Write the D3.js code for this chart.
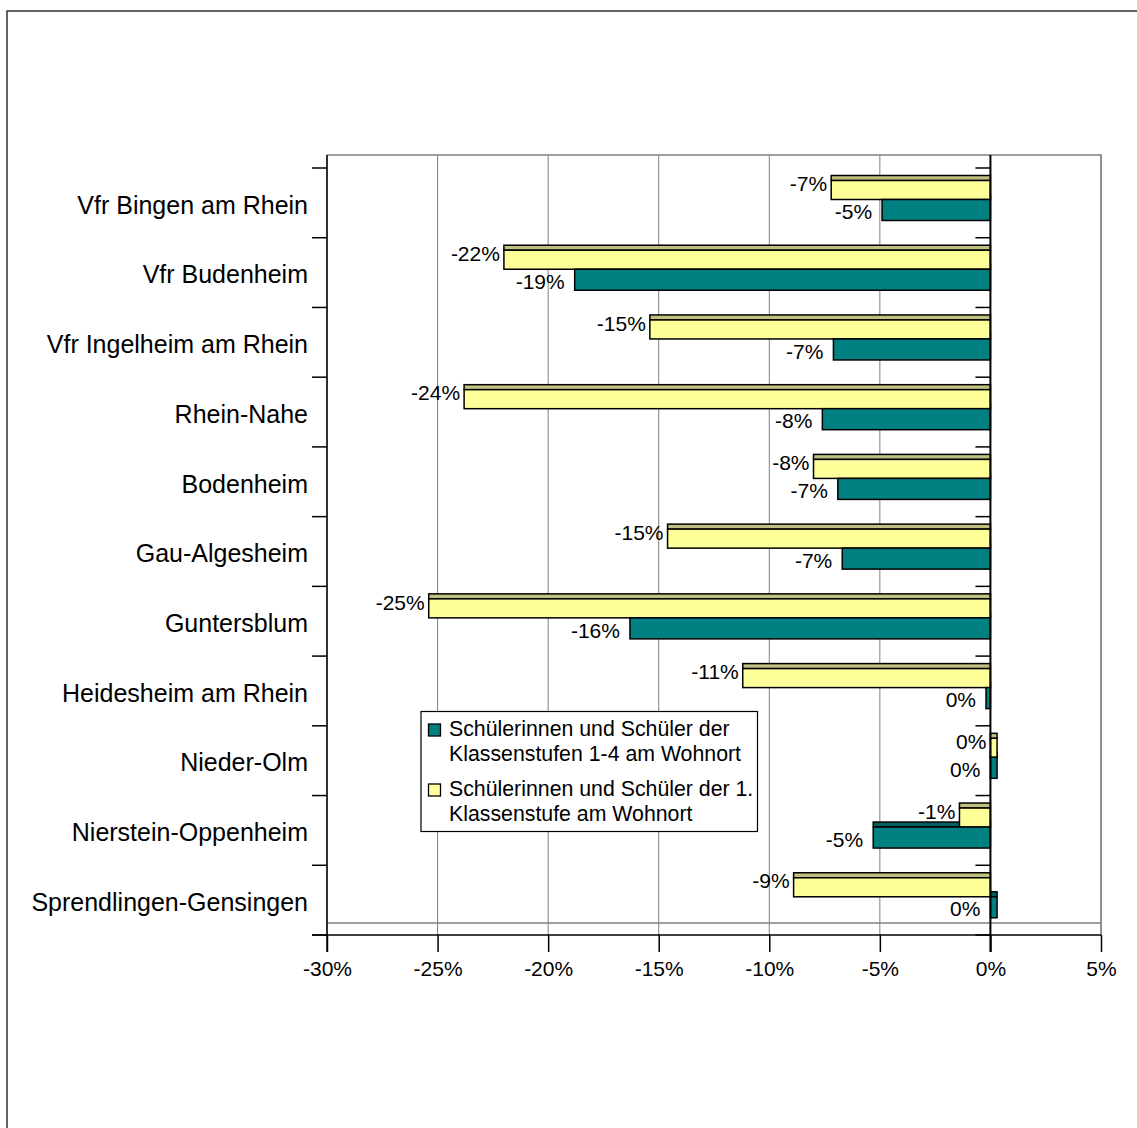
<!DOCTYPE html>
<html><head><meta charset="utf-8">
<script src="https://cdn.jsdelivr.net/npm/d3@7"></script>
<style>body{margin:0;background:#fff}svg{display:block;font-family:"Liberation Sans",Arial,sans-serif}</style>
</head><body>
<svg id="c" width="1137" height="1128"></svg>
<script>
const categories = ["Vfr Bingen am Rhein","Vfr Budenheim","Vfr Ingelheim am Rhein","Rhein-Nahe","Bodenheim","Gau-Algesheim","Guntersblum","Heidesheim am Rhein","Nieder-Olm","Nierstein-Oppenheim","Sprendlingen-Gensingen"];
const klassen14 = [-4.9, -18.8, -7.1, -7.6, -6.9, -6.7, -16.3, -0.2, 0.3, -5.3, 0.3];
const klasse1 = [-7.2, -22.0, -15.4, -23.8, -8.0, -14.6, -25.4, -11.2, 0.3, -1.4, -8.9];
const xTicks = [-30, -25, -20, -15, -10, -5, 0, 5];
const legendLabels = [["Schülerinnen und Schüler der","Klassenstufen 1-4 am Wohnort"],["Schülerinnen und Schüler der 1.","Klassenstufe am Wohnort"]];

const svg = d3.select("#c");
const x = d3.scaleLinear().domain([-30, 5]).range([327, 1101]);
const y = d3.scaleBand().domain(categories).range([168, 935]).padding(0);
const top0 = 155, wallBottom = 923, front = 935;
const teal = "#008080", tealTop = "#005f5f", yel = "#FFFF99", yelTop = "#C0C080";

// outer frame
svg.append("path").attr("d","M7,1128 V11 H1137").attr("fill","none").attr("stroke","#333").attr("stroke-width",1.5);

// gridlines on back wall
svg.selectAll(".grid").data(xTicks).join("line")
  .attr("x1",d=>x(d)).attr("x2",d=>x(d)).attr("y1",top0).attr("y2",wallBottom)
  .attr("stroke","#808080").attr("stroke-width",1);
svg.selectAll(".fgrid").data(xTicks).join("line")
  .attr("x1",d=>x(d)).attr("x2",d=>x(d)).attr("y1",wallBottom).attr("y2",front)
  .attr("stroke","#808080").attr("stroke-width",1);
svg.append("path").attr("d",`M${x(-30)},${top0} H${x(5)} V${front}`).attr("fill","none").attr("stroke","#808080").attr("stroke-width",1.5);
svg.append("line").attr("x1",x(-30)).attr("x2",x(5)).attr("y1",wallBottom).attr("y2",wallBottom).attr("stroke","#808080").attr("stroke-width",1.5);

// bars
const g = svg.append("g");
categories.forEach((c,i)=>{
  const b = y(c);
  const tv = klassen14[i], yv = klasse1[i];
  const tx0 = x(Math.min(0,tv)), tx1 = x(Math.max(0,tv));
  const yx0 = x(Math.min(0,yv)), yx1 = x(Math.max(0,yv));
  g.append("rect").attr("x",tx0).attr("y",b+26.5).attr("width",tx1-tx0).attr("height",5)
    .attr("fill",tealTop).attr("stroke","#000").attr("stroke-width",1.5);
  g.append("rect").attr("x",yx0).attr("y",b+7.5).attr("width",yx1-yx0).attr("height",5)
    .attr("fill",yelTop).attr("stroke","#000").attr("stroke-width",1.5);
  g.append("rect").attr("x",yx0).attr("y",b+12.5).attr("width",yx1-yx0).attr("height",19)
    .attr("fill",yel).attr("stroke","#000").attr("stroke-width",1.5);
  g.append("rect").attr("x",tx0).attr("y",b+31.5).attr("width",tx1-tx0).attr("height",21)
    .attr("fill",teal).attr("stroke","#000").attr("stroke-width",1.5);
});

// axes lines
svg.append("line").attr("x1",x(-30)).attr("x2",x(-30)).attr("y1",top0).attr("y2",952).attr("stroke","#000").attr("stroke-width",1.5);
svg.append("line").attr("x1",x(0)).attr("x2",x(0)).attr("y1",top0).attr("y2",952).attr("stroke","#000").attr("stroke-width",2);
svg.append("line").attr("x1",312).attr("x2",x(5)).attr("y1",front).attr("y2",front).attr("stroke","#000").attr("stroke-width",1.5);

// category ticks
const edges = categories.map(c=>y(c)).concat([y.range()[1]]);
svg.selectAll(".ct").data(edges).join("line")
  .attr("x1",312).attr("x2",x(-30)).attr("y1",d=>d).attr("y2",d=>d).attr("stroke","#000").attr("stroke-width",1.5);
svg.selectAll(".ct0").data(edges).join("line")
  .attr("x1",x(0)-15).attr("x2",x(0)).attr("y1",d=>d).attr("y2",d=>d).attr("stroke","#000").attr("stroke-width",1.5);

// x axis
const xAxis = d3.axisBottom(x).tickValues(xTicks).tickSize(17).tickPadding(9).tickFormat(d=>d+"%");
const ax = svg.append("g").attr("transform",`translate(0,${front})`).call(xAxis);
ax.select(".domain").remove();
ax.selectAll(".tick line").attr("stroke","#000").attr("stroke-width",1.5);
ax.selectAll(".tick text").attr("font-size",21).attr("font-family","Liberation Sans, Arial, sans-serif").attr("fill","#000");

// category labels
svg.selectAll(".cl").data(categories).join("text")
  .attr("x",308).attr("y",d=>y(d)+y.bandwidth()/2+2).attr("dy","0.35em")
  .attr("text-anchor","end").attr("font-size",25).text(d=>d);

// value labels
const fmt = v => (Math.round(v)||0) + "%";
svg.selectAll(".vl1").data(categories).join("text")
  .attr("x",(d,i)=>x(Math.min(0,klasse1[i]))-4)
  .attr("y",d=>y(d)+y.bandwidth()/2-19).attr("dy","0.35em")
  .attr("text-anchor","end").attr("font-size",21).text((d,i)=>fmt(klasse1[i]));
svg.selectAll(".vl2").data(categories).join("text")
  .attr("x",(d,i)=>x(Math.min(0,klassen14[i]))-10)
  .attr("y",d=>y(d)+y.bandwidth()/2+9).attr("dy","0.35em")
  .attr("text-anchor","end").attr("font-size",21).text((d,i)=>fmt(klassen14[i]));

// legend
const lg = svg.append("g");
lg.append("rect").attr("x",421).attr("y",711.5).attr("width",336.5).attr("height",120).attr("fill","#fff").attr("stroke","#000").attr("stroke-width",1.2);
const swatch = [teal, yel];
legendLabels.forEach((lines,k)=>{
  const yy = 729 + k*60;
  lg.append("rect").attr("x",428.5).attr("y",yy-5).attr("width",12).attr("height",12).attr("fill",swatch[k]).attr("stroke","#000").attr("stroke-width",1.3);
  lines.forEach((t,j)=>{
    lg.append("text").attr("x",449).attr("y",yy+j*25).attr("dy","0.35em").attr("font-size",21.3).text(t);
  });
});
</script>
</body></html>
